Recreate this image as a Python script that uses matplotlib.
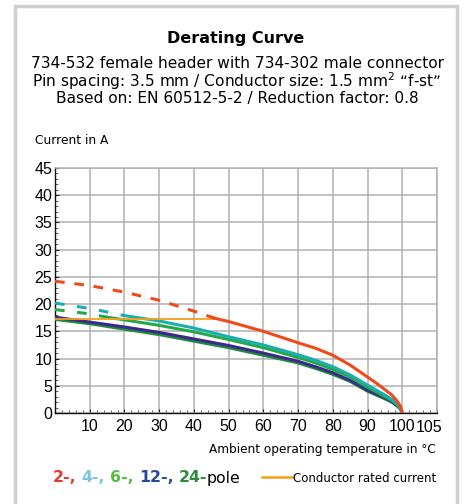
import matplotlib
matplotlib.use("Agg")
import matplotlib.pyplot as plt
from matplotlib.patches import Rectangle
from matplotlib.ticker import MultipleLocator

plt.rcParams['font.family'] = ['Liberation Sans Narrow', 'Liberation Sans', 'DejaVu Sans']
plt.rcParams['lines.scale_dashes'] = False

# derating curves (temperature in degC, current in A)
temp_2 = [0, 10, 20, 30, 40, 46, 50, 60, 70, 75, 80, 85, 90, 92.5, 95, 97, 98.5, 99.5, 100]
curr_2 = [24.2, 23.4, 22.2, 20.7, 18.7, 17.4, 16.8, 15.0, 12.9, 11.9, 10.6, 8.8, 6.6, 5.5, 4.3, 3.3, 2.2, 1.2, 0]
temp_4 = [0, 10, 20, 30, 40, 50, 60, 70, 75, 80, 85, 90, 92.5, 95, 97, 98.5, 99.5, 100]
curr_4 = [20.2, 19.2, 17.9, 16.9, 15.6, 14.0, 12.5, 10.7, 9.7, 8.5, 7.0, 5.1, 4.2, 3.3, 2.5, 1.7, 0.9, 0]
temp_6 = [0, 10, 15, 20, 30, 40, 50, 60, 70, 75, 80, 85, 90, 92.5, 95, 97, 98.5, 99.5, 100]
curr_6 = [19.0, 18.2, 17.6, 17.1, 16.1, 14.9, 13.5, 12.0, 10.2, 9.2, 8.0, 6.6, 4.7, 3.9, 3.0, 2.3, 1.5, 0.8, 0]
temp_12 = [0, 10, 20, 30, 40, 50, 60, 70, 75, 80, 85, 90, 92.5, 95, 97, 98.5, 99.5, 100]
curr_12 = [17.6, 16.7, 15.8, 14.8, 13.6, 12.4, 11.0, 9.5, 8.5, 7.4, 6.0, 4.2, 3.5, 2.8, 2.1, 1.4, 0.8, 0]
temp_24 = [0, 10, 20, 30, 40, 50, 60, 70, 75, 80, 85, 90, 92.5, 95, 97, 98.5, 99.5, 100]
curr_24 = [17.2, 16.4, 15.4, 14.4, 13.2, 12.0, 10.6, 9.2, 8.2, 7.1, 5.8, 4.0, 3.3, 2.6, 2.0, 1.3, 0.7, 0]

# above conductor rated current the curves are drawn dashed
dashed_until = {'2': 46, '4': 20, '6': 15, '12': None, '24': None}

rated_temp = [0, 46]
rated_curr = [17.3, 17.3]

x_ticks = [10, 20, 30, 40, 50, 60, 70, 80, 90, 100]
y_ticks = [0, 5, 10, 15, 20, 25, 30, 35, 40, 45]

colors = {'2': '#EE4B1C', '4': '#1AAFAE', '6': '#25A84A', '12': '#3B2A8A', '24': '#1E8B3E'}
label_colors = {'2': '#E8392B', '4': '#7CC6DE', '6': '#5BB947', '12': '#27489C', '24': '#2E8B3E'}

fig = plt.figure(figsize=(4.65, 5.04), dpi=100)
fig.patch.set_facecolor('white')

# grey frame around the whole graphic
fig.patches.append(Rectangle((15 / 465, -0.05), 442 / 465, 1.05 - 6 / 504, transform=fig.transFigure,
                             fill=False, edgecolor='#CFCFCF', linewidth=2.5))

ax = fig.add_axes([55 / 465, 1 - 413 / 504, 382 / 465, 245 / 504])
ax.set_xlim(0, 110)
ax.set_ylim(0, 45)

series = [('24', temp_24, curr_24), ('12', temp_12, curr_12), ('6', temp_6, curr_6),
          ('4', temp_4, curr_4)]
for key, t, c in series:
    lim = dashed_until[key]
    if lim is None:
        ax.plot(t, c, color=colors[key], lw=2.2, zorder=3, solid_capstyle='butt')
    else:
        k = t.index(lim)
        ax.plot(t[:k + 1], c[:k + 1], color=colors[key], lw=2.2, dashes=(7, 9), zorder=3)
        ax.plot(t[k:], c[k:], color=colors[key], lw=2.2, zorder=3)

ax.plot(rated_temp, rated_curr, color='#F6A01A', lw=1.3, zorder=4)

k = temp_2.index(dashed_until['2'])
ax.plot(temp_2[:k + 1], curr_2[:k + 1], color=colors['2'], lw=2.2, dashes=(7, 7), zorder=5)
ax.plot(temp_2[k:], curr_2[k:], color=colors['2'], lw=2.2, zorder=5)

ax.set_xticks(x_ticks + [110])
ax.set_xticklabels([str(v) for v in x_ticks] + [''])
ax.set_yticks(y_ticks)
ax.set_yticklabels([str(v) for v in y_ticks])
ax.xaxis.set_minor_locator(MultipleLocator(2))
ax.yaxis.set_minor_locator(MultipleLocator(1))
ax.grid(True, which='major', color='#B0B0B0', linewidth=1.1, zorder=0)
ax.set_axisbelow(True)
ax.tick_params(axis='both', which='major', labelsize=11.5, length=3, direction='in', color='#222222')
ax.tick_params(axis='both', which='minor', length=2, direction='in', color='#444444')
ax.tick_params(axis='x', pad=4)
ax.tick_params(axis='y', pad=2)
for s in ['top', 'right']:
    ax.spines[s].set_color('#B0B0B0')
    ax.spines[s].set_linewidth(1.1)
for s in ['left', 'bottom']:
    ax.spines[s].set_color('#111111')
    ax.spines[s].set_linewidth(1.0)
ax.text(107.8, -1.2, '105', ha='center', va='top', fontsize=11.5, transform=ax.transData, clip_on=False)

head = ['DejaVu Sans']
fig.text(236 / 465, 1 - 38 / 504, 'Derating Curve', ha='center', va='center',
         fontsize=11.5, fontweight='bold', family=head)
fig.text(237 / 465, 1 - 63 / 504, '734-532 female header with 734-302 male connector',
         ha='center', va='center', fontsize=11.1, family=head)
fig.text(237 / 465, 1 - 81 / 504, 'Pin spacing: 3.5 mm / Conductor size: 1.5 mm$^2$ \u201cf-st\u201d',
         ha='center', va='center', fontsize=11.1, family=head)
fig.text(237 / 465, 1 - 99 / 504, 'Based on: EN 60512-5-2 / Reduction factor: 0.8',
         ha='center', va='center', fontsize=11.1, family=head)
fig.text(35 / 465, 1 - 140 / 504, 'Current in A', ha='left', va='center', fontsize=8.8, family=head)
fig.text(436 / 465, 1 - 450 / 504, 'Ambient operating temperature in \u00b0C', ha='right', va='center',
         fontsize=8.7, family=head)

# legend row built from coloured pieces
x = 53
for key in ['2', '4', '6', '12', '24']:
    piece = key + '-' if key == '24' else key + '-,'
    t = fig.text(x / 465, 1 - 478 / 504, piece, ha='left', va='center', fontsize=11.3,
                 fontweight='bold', color=label_colors[key], family=head)
    fig.canvas.draw()
    bb = t.get_window_extent()
    x = bb.x1 + (0 if key == '24' else 5)
fig.text(x / 465, 1 - 478 / 504, 'pole', ha='left', va='center', fontsize=11.3, family=head)
fig.add_artist(plt.Line2D([262 / 465, 293 / 465], [1 - 477 / 504, 1 - 477 / 504],
                          transform=fig.transFigure, color='#F6A01A', lw=1.8))
fig.text(293 / 465, 1 - 478 / 504, 'Conductor rated current', ha='left', va='center',
         fontsize=8.5, family=head)

fig.savefig('out.png', dpi=100, facecolor='white')
